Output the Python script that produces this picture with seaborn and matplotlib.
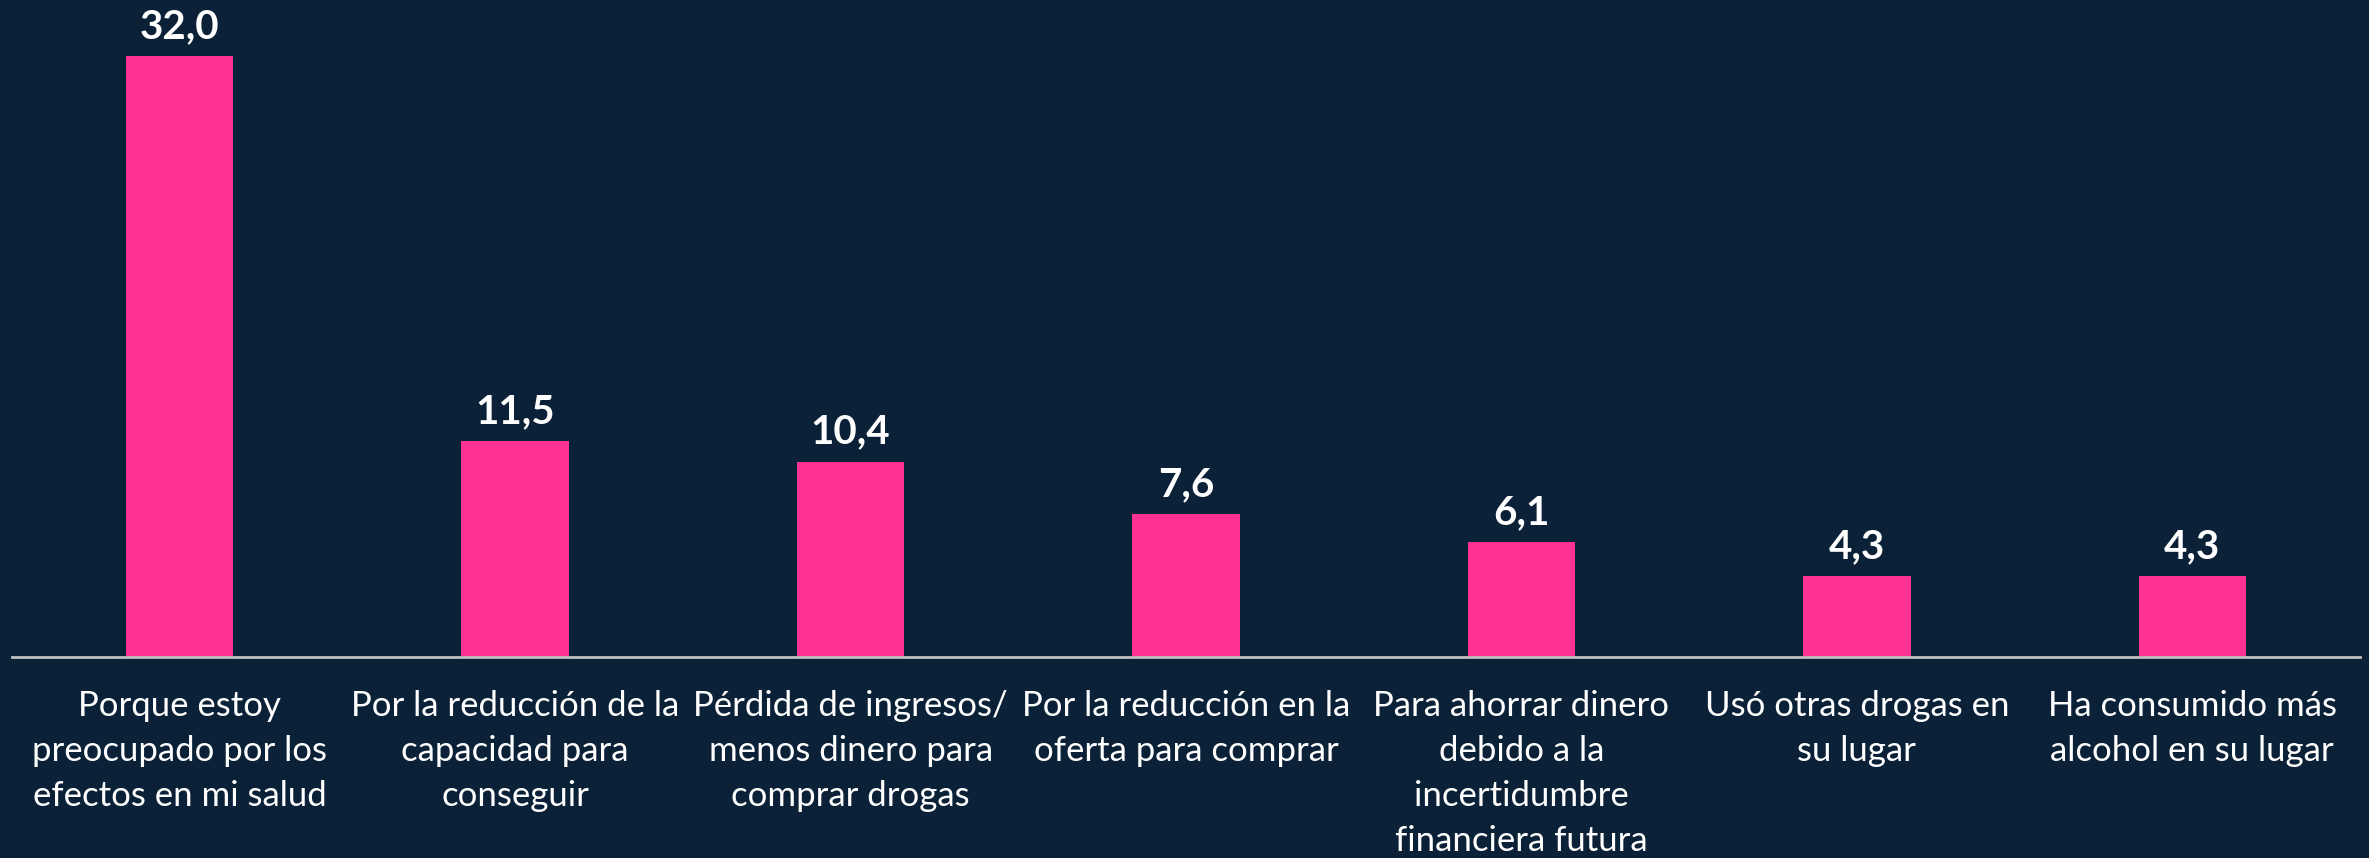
import pandas as pd
import matplotlib
matplotlib.use("Agg")
import matplotlib.pyplot as plt
import seaborn as sns

# data
categorias = [
    "Porque estoy\npreocupado por los\nefectos en mi salud",
    "Por la reducción de la\ncapacidad para\nconseguir",
    "Pérdida de ingresos/\nmenos dinero para\ncomprar drogas",
    "Por la reducción en la\noferta para comprar",
    "Para ahorrar dinero\ndebido a la\nincertidumbre\nfinanciera futura",
    "Usó otras drogas en\nsu lugar",
    "Ha consumido más\nalcohol en su lugar",
]
valores = [32.0, 11.5, 10.4, 7.6, 6.1, 4.3, 4.3]

fondo = "#0B2137"
rosa = "#FF3291"

sns.set_theme(style="white")
plt.rcParams["font.family"] = ["Lato", "DejaVu Sans"]

df = pd.DataFrame({"categoria": categorias, "valor": valores})

fig = plt.figure(figsize=(23.69, 8.58), dpi=100, facecolor=fondo)
ax = fig.add_axes([12 / 2369, (858 - 657) / 858, (2360 - 12) / 2369, 657 / 858])
ax.set_facecolor(fondo)

sns.barplot(data=df, x="categoria", y="valor", color=rosa, saturation=1,
            width=0.32, linewidth=0, ax=ax)

ax.set_xlim(-0.5, 6.5)
ax.set_ylim(0, 35)

for c in ax.containers:
    ax.bar_label(c, labels=[f"{v:.1f}".replace(".", ",") for v in valores],
                 padding=8, color="white", fontsize=29, fontweight="bold")

for s in ["top", "right", "left"]:
    ax.spines[s].set_visible(False)
ax.spines["bottom"].set_color("#BFBFBF")
ax.spines["bottom"].set_linewidth(2)

ax.set_yticks([])
ax.set_xlabel("")
ax.set_ylabel("")
ax.tick_params(axis="x", length=0, pad=24, labelsize=25, colors="white")
for t in ax.get_xticklabels():
    t.set_linespacing(1.5)
    t.set_verticalalignment("top")

fig.savefig("out.png", dpi=100, facecolor=fondo)
